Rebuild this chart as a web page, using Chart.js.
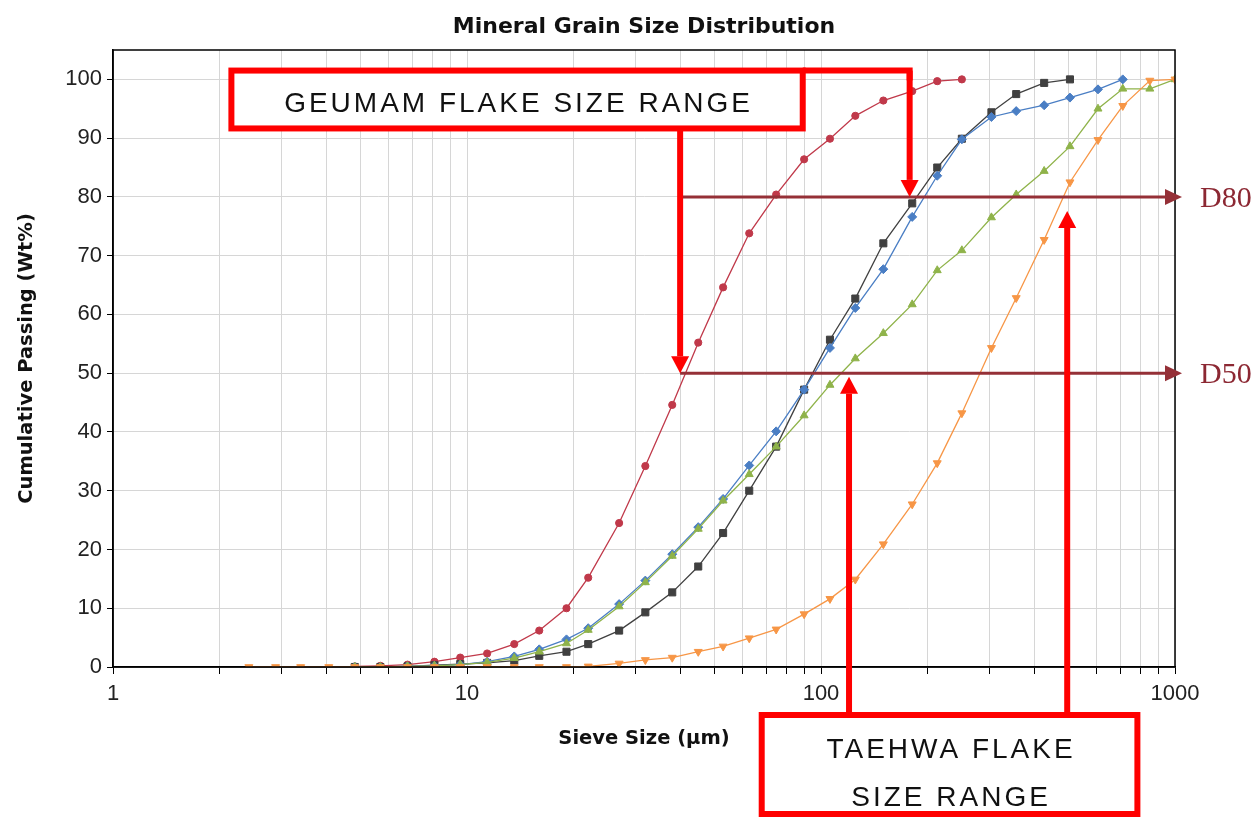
<!DOCTYPE html>
<html>
<head>
<meta charset="utf-8">
<title>Mineral Grain Size Distribution</title>
<script src="https://cdn.jsdelivr.net/npm/chart.js@4.4.1/dist/chart.umd.min.js"></script>
<style>
  html, body { margin: 0; padding: 0; background: #fff; }
  #wrap { width: 1258px; height: 817px; }
</style>
</head>
<body>
<div id="wrap"><canvas id="grainChart" width="1258" height="817"></canvas></div>
<script>
// sieve sizes (um) shared by all samples
const sieveSizes = [2.42, 2.88, 3.39, 4.07, 4.82, 5.69, 6.79, 8.09, 9.57, 11.4, 13.6, 16.0,
  19.1, 22.0, 26.9, 31.9, 38.0, 45.0, 52.9, 62.7, 74.7, 89.6, 106, 125,
  150, 181, 213, 250, 303, 356, 427, 505, 606, 712, 849, 1000];

// cumulative passing (wt%), null = not measured
const redPassing = [null, null, null, null, 0.1, 0.2, 0.4, 0.9, 1.6, 2.3, 3.9, 6.2,
  10.0, 15.2, 24.5, 34.2, 44.6, 55.2, 64.6, 73.8, 80.4, 86.4, 89.9, 93.8,
  96.4, 98.0, 99.7, 100, null, null, null, null, null, null, null, null];
const blackPassing = [null, null, null, null, 0, 0, 0.1, 0.3, 0.5, 0.7, 1.1, 1.9,
  2.6, 3.9, 6.2, 9.3, 12.7, 17.1, 22.8, 30.0, 37.5, 47.2, 55.7, 62.7,
  72.1, 78.9, 85.0, 89.9, 94.4, 97.5, 99.4, 100, null, null, null, null];
const bluePassing = [null, null, null, null, 0, 0, 0.1, 0.2, 0.4, 0.9, 1.8, 3.0,
  4.7, 6.6, 10.7, 14.7, 19.2, 23.8, 28.6, 34.3, 40.1, 47.2, 54.3, 61.1,
  67.7, 76.6, 83.6, 89.8, 93.6, 94.6, 95.6, 96.9, 98.3, 100, null, null];
const greenPassing = [null, null, null, null, 0, 0, 0.1, 0.2, 0.4, 0.8, 1.5, 2.6,
  4.0, 6.3, 10.3, 14.4, 18.9, 23.5, 28.3, 32.8, 37.5, 42.8, 48.0, 52.5,
  56.8, 61.7, 67.5, 70.9, 76.5, 80.4, 84.4, 88.6, 95.0, 98.4, 98.4, 100];
const orangePassing = [0, 0, 0, 0, 0, 0, 0, 0, 0, 0, 0, 0,
  0, 0.1, 0.6, 1.2, 1.6, 2.6, 3.5, 4.9, 6.4, 9.0, 11.6, 14.9,
  20.9, 27.7, 34.7, 43.2, 54.3, 62.8, 72.7, 82.5, 89.7, 95.5, 99.8, 100];

const xGridValues = [1, 2, 3, 4, 5, 6, 7, 8, 9, 10, 20, 30, 40, 50, 60, 70, 80, 90,
  100, 200, 300, 400, 500, 600, 700, 800, 900, 1000];
const xLabelValues = [1, 10, 100, 1000];

// annotation values
const chartTitle = 'Mineral Grain Size Distribution';
const dLevels = [50, 80];
const dLabels = ['D50', 'D80'];
const dStartSize = 40;
const geumamArrowSizes = [40, 178];
const geumamArrowLevels = [50, 80];
const taehwaArrowSizes = [120, 496];
const taehwaArrowLevels = [49.4, 77.6];

function toPoints(values) {
  return sieveSizes.map((s, i) => ({ x: s, y: values[i] })).filter(p => p.y !== null);
}

function arrow(ctx, x1, y1, x2, y2, color, width, headLen, headHalf) {
  const ang = Math.atan2(y2 - y1, x2 - x1);
  const bx = x2 - headLen * Math.cos(ang);
  const by = y2 - headLen * Math.sin(ang);
  ctx.strokeStyle = color;
  ctx.fillStyle = color;
  ctx.lineWidth = width;
  ctx.beginPath();
  ctx.moveTo(x1, y1);
  ctx.lineTo(bx, by);
  ctx.stroke();
  ctx.beginPath();
  ctx.moveTo(x2, y2);
  ctx.lineTo(bx + headHalf * Math.sin(ang), by - headHalf * Math.cos(ang));
  ctx.lineTo(bx - headHalf * Math.sin(ang), by + headHalf * Math.cos(ang));
  ctx.closePath();
  ctx.fill();
}

function spacedText(ctx, text, cx, cy) {
  ctx.font = '28px "Liberation Sans", Arial, sans-serif';
  ctx.letterSpacing = '3px';
  ctx.fillStyle = '#111';
  ctx.textAlign = 'center';
  ctx.textBaseline = 'middle';
  ctx.fillText(text, cx + 1.5, cy);
  ctx.letterSpacing = '0px';
}

const annotations = {
  id: 'annotations',
  afterDatasetsDraw(chart) {
    const { ctx, chartArea: a, scales: { x, y } } = chart;
    const red = '#ff0000';
    ctx.save();

    // title, centred over the plot area
    ctx.font = 'bold 22px "DejaVu Sans", sans-serif';
    ctx.fillStyle = '#111';
    ctx.textAlign = 'center';
    ctx.textBaseline = 'middle';
    ctx.fillText(chartTitle, (a.left + a.right) / 2, 27);

    // plot frame
    ctx.strokeStyle = '#000';
    ctx.lineWidth = 1.5;
    ctx.strokeRect(a.left, a.top, a.right - a.left, a.bottom - a.top);

    // D50 / D80 reference lines
    const xs = x.getPixelForValue(dStartSize);
    const xe = x.getPixelForValue(1000) + 7;
    dLevels.forEach((lvl, i) => {
      const py = y.getPixelForValue(lvl);
      arrow(ctx, xs, py, xe, py, '#953037', 3, 17, 8);
      ctx.font = '30px "Liberation Serif", "Times New Roman", serif';
      ctx.fillStyle = '#8c2833';
      ctx.textAlign = 'left';
      ctx.textBaseline = 'middle';
      ctx.fillText(dLabels[i], xe + 18, py + 2);
    });

    // GEUMAM box and arrows
    const gx1 = x.getPixelForValue(2.16), gx2 = x.getPixelForValue(88.8);
    const gy1 = y.getPixelForValue(101.5), gy2 = y.getPixelForValue(91.65);
    ctx.fillStyle = '#fff';
    ctx.fillRect(gx1, gy1, gx2 - gx1, gy2 - gy1);
    ctx.strokeStyle = red;
    ctx.lineWidth = 6;
    ctx.strokeRect(gx1, gy1, gx2 - gx1, gy2 - gy1);
    const gax = geumamArrowSizes.map(v => x.getPixelForValue(v));
    const gay = geumamArrowLevels.map(v => y.getPixelForValue(v));
    ctx.beginPath();
    ctx.moveTo(gx2, gy1);
    ctx.lineTo(gax[1], gy1);
    ctx.lineTo(gax[1], gy1 + 10);
    ctx.stroke();
    arrow(ctx, gax[1], gy1, gax[1], gay[1], red, 6, 17, 9);
    arrow(ctx, gax[0], gy2, gax[0], gay[0], red, 6, 17, 9);
    spacedText(ctx, 'GEUMAM FLAKE SIZE RANGE', (gx1 + gx2) / 2, (gy1 + gy2) / 2 + 5);

    // TAEHWA box and arrows
    const tx1 = x.getPixelForValue(68), tx2 = x.getPixelForValue(783);
    const ty1 = a.bottom + 48, ty2 = a.bottom + 147;
    taehwaArrowSizes.forEach((s, i) => {
      const px = x.getPixelForValue(s);
      arrow(ctx, px, ty1, px, y.getPixelForValue(taehwaArrowLevels[i]), red, 6, 17, 9);
    });
    ctx.fillStyle = '#fff';
    ctx.fillRect(tx1, ty1, tx2 - tx1, ty2 - ty1);
    ctx.strokeStyle = red;
    ctx.lineWidth = 6;
    ctx.strokeRect(tx1, ty1, tx2 - tx1, ty2 - ty1);
    spacedText(ctx, 'TAEHWA FLAKE', (tx1 + tx2) / 2, a.bottom + 83);
    spacedText(ctx, 'SIZE RANGE', (tx1 + tx2) / 2, a.bottom + 131);

    ctx.restore();
  }
};

const tickFont = { family: '"Liberation Sans", Arial, sans-serif', size: 22 };
const titleFont = { family: '"DejaVu Sans", sans-serif', size: 19.5, weight: 'bold' };

function series(label, values, color, style, radius, order, rotation) {
  return {
    label: label,
    data: toPoints(values),
    borderColor: color,
    backgroundColor: color,
    borderWidth: 1.3,
    pointStyle: style,
    pointRadius: radius,
    pointRotation: rotation || 0,
    pointBorderWidth: 1,
    tension: 0,
    order: order
  };
}

new Chart(document.getElementById('grainChart'), {
  type: 'line',
  data: {
    datasets: [
      series('Sample 1', redPassing, '#c0394a', 'circle', 3.6, 4),
      series('Sample 2', blackPassing, '#404040', 'rect', 5, 3),
      series('Sample 3', bluePassing, '#4a7ec4', 'rectRot', 4.5, 2),
      series('Sample 4', greenPassing, '#8fb34a', 'triangle', 4.6, 1),
      series('Sample 5', orangePassing, '#f79646', 'triangle', 4.6, 0, 180)
    ]
  },
  options: {
    responsive: false,
    animation: false,
    layout: { padding: { left: 0, right: 83, top: 50, bottom: 0 } },
    plugins: {
      legend: { display: false },
      tooltip: { enabled: false },
      title: { display: false }
    },
    scales: {
      x: {
        type: 'logarithmic',
        min: 1,
        max: 1000,
        afterBuildTicks: s => { s.ticks = xGridValues.map(v => ({ value: v })); },
        afterFit: s => { s.height = 150; },
        ticks: {
          autoSkip: false,
          maxRotation: 0,
          color: '#222',
          font: tickFont,
          padding: 7,
          callback: v => xLabelValues.includes(v) ? String(v) : ''
        },
        grid: { color: '#d6d6d6', tickColor: '#000', tickLength: 7 },
        border: { color: '#000', width: 1.5 },
        title: {
          display: true,
          text: 'Sieve Size (µm)',
          color: '#111',
          font: titleFont,
          padding: { top: 0, bottom: 66 }
        }
      },
      y: {
        min: 0,
        max: 105,
        afterFit: s => { s.width = 113; },
        ticks: {
          stepSize: 5,
          color: '#222',
          font: tickFont,
          padding: 5,
          callback: v => (v % 10 === 0 ? String(v) : '')
        },
        grid: {
          color: c => (c.tick && c.tick.value % 10 === 0 && c.tick.value <= 100) ? '#d6d6d6' : 'rgba(0,0,0,0)',
          tickColor: '#000',
          tickLength: 6
        },
        border: { color: '#000', width: 1.5 },
        title: {
          display: true,
          text: 'Cumulative Passing (Wt%)',
          color: '#111',
          font: titleFont,
          padding: { top: 15, bottom: 0 }
        }
      }
    }
  },
  plugins: [annotations]
});
</script>
</body>
</html>
